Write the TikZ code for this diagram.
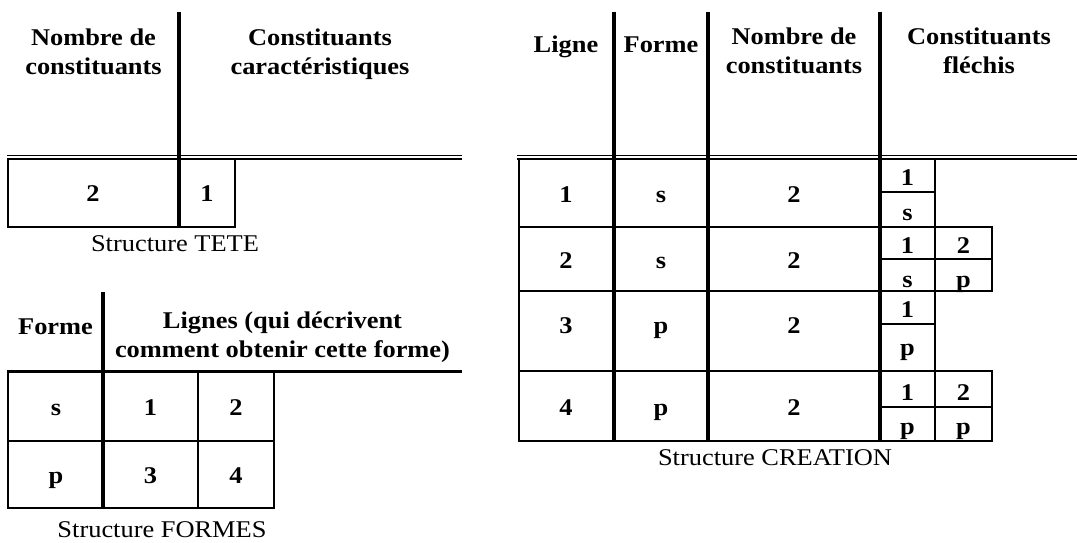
\documentclass[tikz,border=0pt]{standalone}
\usepackage{fontspec}
\setmainfont{Liberation Serif}[FakeStretch=1.1]
\begin{document}
\begin{tikzpicture}[x=1pt,y=-1pt,
  thickrule/.style={line width=4pt},
  thinrule/.style={line width=2pt},
  dblrule/.style={line width=1.7pt},
  midrule/.style={line width=3pt},
  hd/.style={anchor=base, inner sep=0pt, font=\fontsize{24}{28}\selectfont\bfseries},
  captxt/.style={anchor=base, inner sep=0pt, font=\fontsize{24}{28}\selectfont}]
\useasboundingbox (0,0) rectangle (1077,542);

% ---------------- Structure TETE ----------------
\node[hd] (ta1) at (93.5,45) {Nombre de};
\node[hd] (ta2) at (93.5,74) {constituants};
\node[hd] (tb1) at (320,45) {Constituants};
\node[hd] (tb2) at (320,74) {caractéristiques};
\node[hd] (tv2) at (93,201) {2};
\node[hd] (tv1) at (207,201) {1};
\node[captxt] (tcap) at (175,251) {Structure TETE};
\draw[dblrule] (7,155.5) -- (462,155.5) (7,158.8) -- (462,158.8);
\draw[thinrule] (8.3,158.8) -- (8.3,226.5) -- (235,226.5) -- (235,158.8);
\draw[thickrule] (179,11.7) -- (179,227.5);

% ---------------- Structure FORMES ----------------
\node[hd] (fa) at (55.5,334) {Forme};
\node[hd] (fb1) at (282.5,328) {Lignes (qui décrivent};
\node[hd] (fb2) at (282.5,357) {comment obtenir cette forme)};
\node[hd] (fs) at (56,415) {s};
\node[hd] (f1) at (150.5,415) {1};
\node[hd] (f2) at (236,415) {2};
\node[hd] (fp) at (56,483) {p};
\node[hd] (f3) at (150.5,483) {3};
\node[hd] (f4) at (236,483) {4};
\node[captxt] (fcap) at (162,537.5) {Structure FORMES};
\draw[midrule] (7,371.7) -- (462,371.7);
\draw[thinrule] (8.3,372) -- (8.3,508) -- (274,508) -- (274,372)
  (198.3,372) -- (198.3,508) (8.3,441) -- (274,441);
\draw[thickrule] (102.7,291.7) -- (102.7,509);

% ---------------- Structure CREATION ----------------
\node[hd] (ca) at (566,52) {Ligne};
\node[hd] (cb) at (661,52) {Forme};
\node[hd] (cc1) at (794,44) {Nombre de};
\node[hd] (cc2) at (794,73) {constituants};
\node[hd] (cd1) at (979,44) {Constituants};
\node[hd] (cd2) at (979,73) {fléchis};
% main rows
\node[hd] (r1a) at (566,202) {1};
\node[hd] (r1b) at (661,202) {s};
\node[hd] (r1c) at (794,202) {2};
\node[hd] (r2a) at (566,268) {2};
\node[hd] (r2b) at (661,268) {s};
\node[hd] (r2c) at (794,268) {2};
\node[hd] (r3a) at (566,333) {3};
\node[hd] (r3b) at (661,333) {p};
\node[hd] (r3c) at (794,333) {2};
\node[hd] (r4a) at (566,415) {4};
\node[hd] (r4b) at (661,415) {p};
\node[hd] (r4c) at (794,415) {2};
% sub cells
\node[hd] (s11) at (907.5,185) {1};
\node[hd] (s12) at (907.5,220) {s};
\node[hd] (s21) at (907.5,253) {1};
\node[hd] (s22) at (963.5,253) {2};
\node[hd] (s23) at (907.5,287) {s};
\node[hd] (s24) at (963.5,287) {p};
\node[hd] (s31) at (907.5,317) {1};
\node[hd] (s32) at (907.5,355) {p};
\node[hd] (s41) at (907.5,400) {1};
\node[hd] (s42) at (963.5,400) {2};
\node[hd] (s43) at (907.5,434) {p};
\node[hd] (s44) at (963.5,434) {p};
\node[captxt] (ccap) at (775,465) {Structure CREATION};
\draw[dblrule] (517,155.5) -- (1077,155.5) (517,158.8) -- (1077,158.8);
\draw[thinrule] (519,158.8) -- (519,441) -- (992,441) -- (992,371) -- (519,371)
  (519,227) -- (992,227) -- (992,291) -- (519,291)
  (935,158.8) -- (935,441)
  (880,192) -- (935,192) (880,259) -- (992,259)
  (880,324) -- (935,324) (880,406.7) -- (992,406.7);
\draw[thickrule] (614,11.7) -- (614,442) (708,11.7) -- (708,442) (880,11.7) -- (880,442);
\end{tikzpicture}
\end{document}
